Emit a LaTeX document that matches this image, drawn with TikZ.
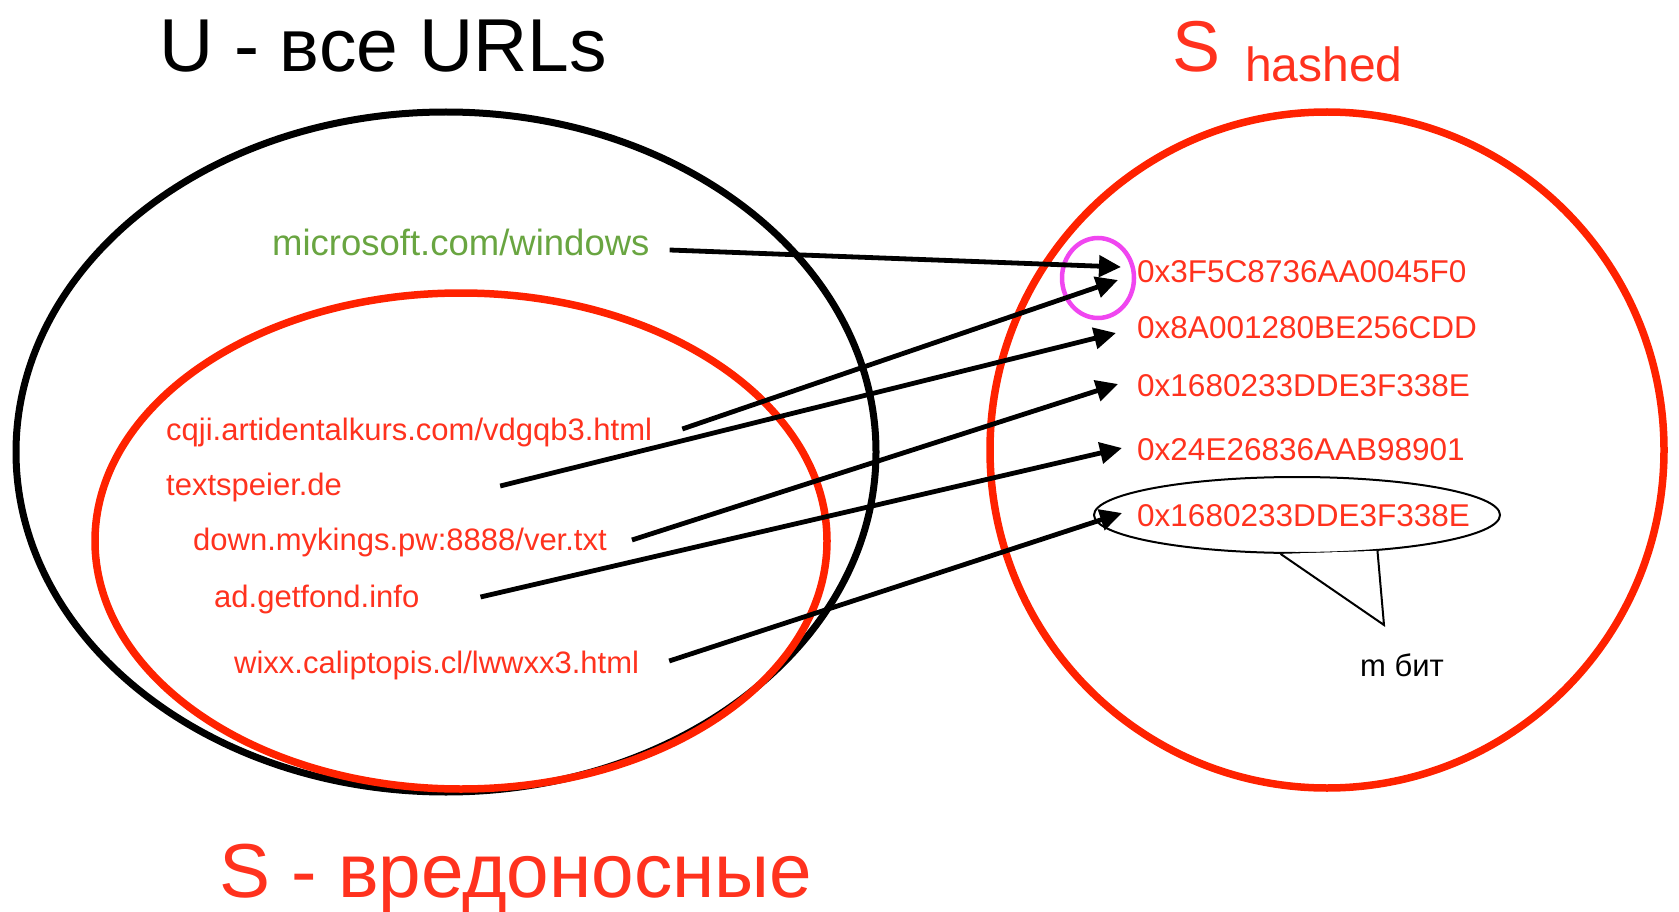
\documentclass[tikz,border=0pt]{standalone}
\usepackage{fontspec}
\setmainfont{Liberation Sans}
\usetikzlibrary{shapes.geometric,arrows.meta}
\definecolor{ered}{RGB}{255,34,0}
\definecolor{tred}{RGB}{255,50,30}
\definecolor{tgreen}{RGB}{105,165,65}
\definecolor{mag}{RGB}{240,70,240}
\begin{document}
\begin{tikzpicture}[x=1pt,y=-1pt,
  setline/.style={draw, ellipse, inner sep=0pt},
  url/.style={anchor=base west, inner sep=0pt, text=tred, font=\fontsize{31}{31}\selectfont},
  hex/.style={anchor=base west, inner sep=0pt, text=tred, font=\fontsize{31.5}{31.5}\selectfont},
  arr/.style={line width=4.8pt, -{Triangle[length=22pt,width=21pt]}},
  big/.style={anchor=base west, inner sep=0pt, font=\fontsize{75}{75}\selectfont}]
\useasboundingbox (0,0) rectangle (1679,912);
% sets
\node[setline, draw=black, line width=7pt, minimum width=860pt, minimum height=680pt] (U) at (446,452) {};
\node[setline, draw=ered, line width=7.5pt, minimum width=732pt, minimum height=496pt] (S) at (461,541) {};
\node[setline, draw=ered, line width=7.5pt, minimum width=674pt, minimum height=676pt] (H) at (1327,450) {};
% speech bubble
\node[setline, draw=black, line width=2pt, minimum width=406pt, minimum height=76pt] (bubble) at (1297,515) {};
\coordinate (tip) at (1384,625);
\fill[white] (bubble.247) -- (tip) -- (bubble.336) -- cycle;
\draw[line width=2pt, line join=miter] (bubble.247) -- (tip) -- (bubble.336);
% collision marker
\node[setline, draw=mag, line width=4.5pt, minimum width=72pt, minimum height=80pt] (hit) at (1098,278) {};
% titles
\node[big] (tU) at (159,72) {U - все URLs};
\node[big, text=tred, font=\fontsize{72}{72}\selectfont] (tS) at (1172,72) {S};
\node[anchor=base west, inner sep=0pt, text=tred, font=\fontsize{48}{48}\selectfont] (tSh) at (1245,82) {hashed};
\node[big, text=tred, font=\fontsize{76.5}{76.5}\selectfont] (tSm) at (219,897) {S - вредоносные};
% urls
\node[url, text=tgreen, font=\fontsize{36.5}{36.5}\selectfont] (ms) at (272,255) {microsoft.com/windows};
\node[url] (u1) at (166,440) {cqji.artidentalkurs.com/vdgqb3.html};
\node[url] (u2) at (166,495) {textspeier.de};
\node[url] (u3) at (193,550) {down.mykings.pw:8888/ver.txt};
\node[url] (u4) at (214,607) {ad.getfond.info};
\node[url] (u5) at (234,673) {wixx.caliptopis.cl/lwwxx3.html};
% hashes
\node[hex] (h1) at (1137,283) {0x3F5C8736AA0045F0};
\node[hex] (h2) at (1137,338) {0x8A001280BE256CDD};
\node[hex] (h3) at (1137,396) {0x1680233DDE3F338E};
\node[hex] (h4) at (1137,460) {0x24E26836AAB98901};
\node[hex] (h5) at (1137,526) {0x1680233DDE3F338E};
\node[anchor=base west, inner sep=0pt, font=\fontsize{31}{31}\selectfont] (mb) at (1360,676) {m бит};
% arrows
\draw[arr] ([shift={(20,-5)}]ms.base east) -- ([shift={(-16,-16)}]h1.base west);
\draw[arr] ([shift={(30,-11)}]u1.base east) -- ([shift={(-19,-3)}]h1.base west);
\draw[arr] ([shift={(158,-9)}]u2.base east) -- ([shift={(-21,-5)}]h2.base west);
\draw[arr] ([shift={(25,-10)}]u3.base east) -- ([shift={(-19,-12)}]h3.base west);
\draw[arr] ([shift={(61,-10)}]u4.base east) -- ([shift={(-15,-12)}]h4.base west);
\draw[arr] ([shift={(30,-12)}]u5.base east) -- ([shift={(-15,-13)}]h5.base west);
\end{tikzpicture}
\end{document}
